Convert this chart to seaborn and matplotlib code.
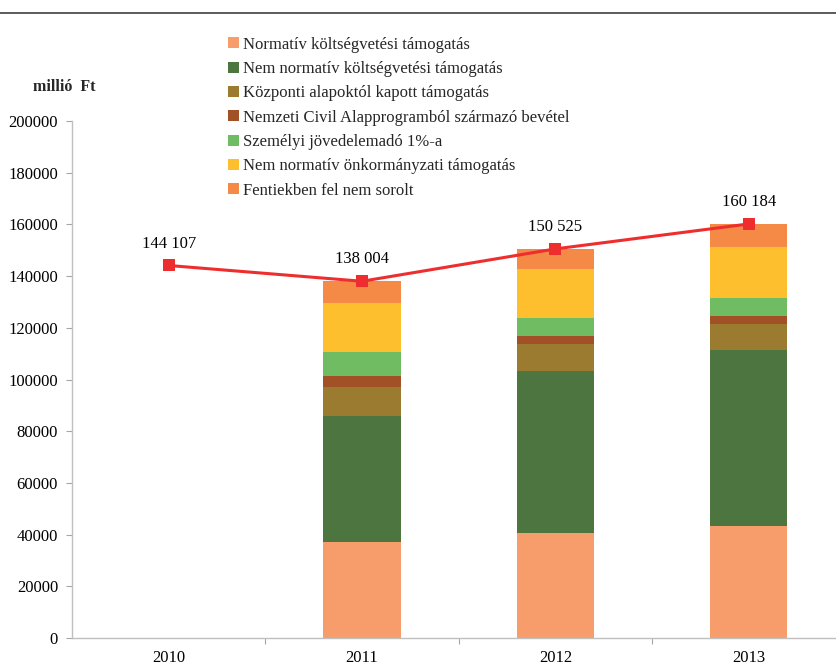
import numpy as np
import pandas as pd
import matplotlib
matplotlib.use("Agg")
import matplotlib.pyplot as plt
from matplotlib.patches import Patch
from matplotlib.lines import Line2D
import seaborn as sns

years = ["2010", "2011", "2012", "2013"]
series_names = [
    "Normatív költségvetési támogatás",
    "Nem normatív költségvetési támogatás",
    "Központi alapoktól kapott támogatás",
    "Nemzeti Civil Alapprogramból származó bevétel",
    "Személyi jövedelemadó 1%-a",
    "Nem normatív önkormányzati támogatás",
    "Fentiekben fel nem sorolt",
]
normativ = [np.nan, 37250, 40700, 43400]
nem_normativ = [np.nan, 48600, 62600, 68000]
kozponti = [np.nan, 11200, 10400, 10100]
nca = [np.nan, 4400, 3100, 3100]
szja = [np.nan, 9100, 7100, 7000]
onkorm = [np.nan, 19000, 18800, 19700]
egyeb = [np.nan, 8454, 7825, 8884]
totals = [144107, 138004, 150525, 160184]
total_labels = ["144 107", "138 004", "150 525", "160 184"]

colors = ["#F79D6B", "#4C7540", "#9A7B30", "#A25127", "#70BC63", "#FDBF2D", "#F48A46"]

sns.set_theme(style="white")
plt.rcParams["font.family"] = ["Liberation Serif", "DejaVu Serif"]

fig = plt.figure(figsize=(8.36, 6.66), dpi=100)
ax = fig.add_axes([72 / 836, 28 / 666, 773.5 / 836, 517 / 666])

stack = np.array([normativ, nem_normativ, kozponti, nca, szja, onkorm, egyeb], dtype=float)
cum = np.cumsum(stack, axis=0)
for i in range(len(series_names) - 1, -1, -1):
    df = pd.DataFrame({"year": years, "value": cum[i]})
    sns.barplot(data=df, x="year", y="value", order=years, color=colors[i],
                width=0.4, linewidth=0, saturation=1, ax=ax, errorbar=None)

xpos = np.arange(len(years))
sns.lineplot(x=xpos, y=totals, ax=ax, color="#EE2E2E", linewidth=2.2,
             marker="s", markersize=8, markeredgewidth=0, zorder=5)
for x, y, lab in zip(xpos, totals, total_labels):
    ax.annotate(lab, (x, y), xytext=(0, 10), textcoords="offset points",
                ha="center", va="bottom", fontsize=12, color="#000000")

ax.set_xlim(-0.5, 3.5)
ax.set_ylim(0, 200000)
ax.set_yticks(np.arange(0, 200001, 20000))
ax.set_yticklabels([str(v) for v in range(0, 200001, 20000)])
ax.set_xlabel("")
ax.set_ylabel("")
ax.set_xticks(xpos)
ax.set_xticklabels(years)
ax.set_xticks([0.5, 1.5, 2.5], minor=True)
ax.tick_params(axis="x", which="major", length=0, pad=9, labelsize=12, colors="#000000")
ax.tick_params(axis="x", which="minor", length=4, width=0.8, color="#A6A6A6", direction="out", bottom=True)
ax.tick_params(axis="y", which="major", length=4, width=0.8, color="#A6A6A6", direction="out", left=True, pad=6, labelsize=12, labelcolor="#000000")
for s in ["top", "right"]:
    ax.spines[s].set_visible(False)
for s in ["left", "bottom"]:
    ax.spines[s].set_color("#BFBFBF")
    ax.spines[s].set_linewidth(1.0)

handles = [Patch(facecolor=c, edgecolor="none") for c in colors]
fig.legend(handles, series_names, loc="upper left", bbox_to_anchor=(221 / 836, 1 - 30 / 666),
           frameon=False, fontsize=12, handlelength=0.65, handleheight=0.65,
           handletextpad=0.25, labelspacing=0.5, borderaxespad=0)

fig.text(33 / 836, 1 - 87 / 666, "millió  Ft", fontsize=11.5, fontweight="bold",
         ha="left", va="center")
fig.add_artist(Line2D([0, 1], [1 - 13 / 666, 1 - 13 / 666], color="#404040", linewidth=1.2))

fig.savefig("out.png", dpi=100)
